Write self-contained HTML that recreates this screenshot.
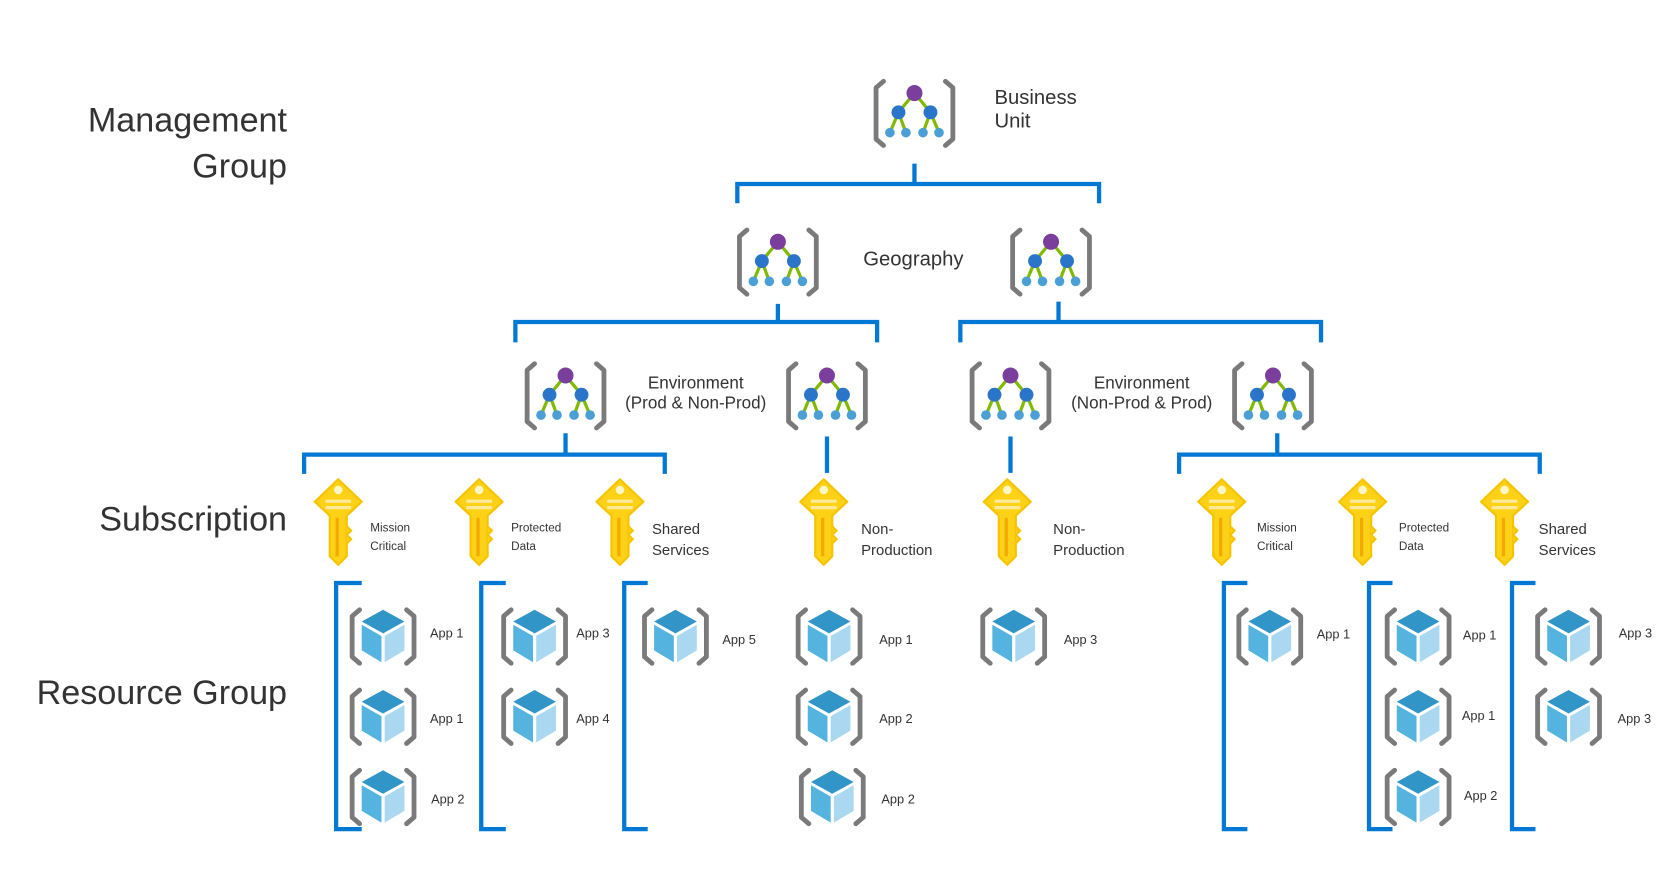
<!DOCTYPE html>
<html><head><meta charset="utf-8"><style>
html,body{margin:0;padding:0;background:#fff;width:1671px;height:889px;overflow:hidden}
svg{display:block}
text{font-family:"Liberation Sans",sans-serif;fill:#333}
</style></head><body>
<svg width="1671" height="889" viewBox="1 0 1566 831" preserveAspectRatio="none" xmlns="http://www.w3.org/2000/svg">
<defs>
<g id="mg">
<path d="M-29,-30 L-36,-24 L-36,24 L-29,30 M29,-30 L36,-24 L36,24 L29,30" fill="none" stroke="#7a7a7a" stroke-width="4.5" stroke-linecap="round" stroke-linejoin="round"/>
<path d="M0,-19 L-15,-1 L-23,18 M-15,-1 L-8,18 M0,-19 L15,-1 L8,18 M15,-1 L23,18" stroke="#7fba00" stroke-width="3" fill="none"/>
<circle cx="0" cy="-19" r="7.5" fill="#7a3f9d"/>
<circle cx="-15" cy="-1" r="6.5" fill="#2a74c9"/><circle cx="15" cy="-1" r="6.5" fill="#2a74c9"/>
<circle cx="-23" cy="18" r="4.5" fill="#4a9fd5"/><circle cx="-8" cy="18" r="4.5" fill="#4a9fd5"/>
<circle cx="8" cy="18" r="4.5" fill="#4a9fd5"/><circle cx="23" cy="18" r="4.5" fill="#4a9fd5"/>
</g>
<g id="key">
<path d="M0,-22 L22,-1 L8,12 L8,50 L0,58 L-8,50 L-8,12 L-22,-1 Z" fill="#fcd116" stroke="#f7c300" stroke-width="2" stroke-linejoin="round"/>
<path d="M8,22 L12,26 L8,30 L12,34 L8,38" fill="#fcd116" stroke="#f7c300" stroke-width="2"/>
<rect x="-2.5" y="14" width="3" height="36" fill="#f2a900"/>
<circle cx="0" cy="-12" r="4" fill="#fff6c8"/>
<rect x="-12" y="-3" width="24" height="3" fill="#fde99a"/>
<rect x="-12" y="3" width="24" height="3" fill="#fde99a"/>
</g>
<g id="cube">
<path d="M-22,-25 L-29,-19 L-29,19 L-22,25 M22,-25 L29,-19 L29,19 L22,25" fill="none" stroke="#7a7a7a" stroke-width="4.5" stroke-linecap="round" stroke-linejoin="round"/>
<path d="M0,-25 L20,-14 L0,-3 L-20,-14 Z" fill="#3295c8"/>
<path d="M-20,-11 L-1.5,-0.5 L-1.5,24 L-20,13 Z" fill="#55b3e0"/>
<path d="M20,-11 L1.5,-0.5 L1.5,24 L20,13 Z" fill="#a9d8f0"/>
</g>
</defs>

<text x="270" y="123" font-size="32" text-anchor="end">Management</text>
<text x="270" y="166" font-size="32" text-anchor="end">Group</text>
<text x="270" y="496" font-size="32" text-anchor="end">Subscription</text>
<text x="270" y="658" font-size="32" text-anchor="end">Resource Group</text>

<g stroke="#0078d4" stroke-width="4" fill="none">
<path d="M858,153 V172 M692,190 V172 H1031 V190"/>
<path d="M730,284 V301 M484,320 V301 H823 V320"/>
<path d="M993,282 V301 M901,320 V301 H1239 V320"/>
<path d="M531,405 V425 M286,443 V425 H624 V443"/>
<path d="M776,408 V442 M948,408 V442"/>
<path d="M1198,405 V425 M1106,443 V425 H1444 V443"/>
<path d="M340,545 H316 V775 H340"/>
<path d="M475,545 H452 V775 H475"/>
<path d="M608,545 H586 V775 H608"/>
<path d="M1170,545 H1148 V775 H1170"/>
<path d="M1306,545 H1284 V775 H1306"/>
<path d="M1440,545 H1418 V775 H1440"/>
</g>

<use href="#mg" x="858" y="106"/>
<use href="#mg" x="730" y="245"/>
<use href="#mg" x="986" y="245"/>
<use href="#mg" x="531" y="370"/>
<use href="#mg" x="776" y="370"/>
<use href="#mg" x="948" y="370"/>
<use href="#mg" x="1194" y="370"/>

<text x="933" y="97" font-size="19">Business</text>
<text x="933" y="119" font-size="19">Unit</text>
<text x="857" y="248" font-size="19" text-anchor="middle">Geography</text>
<text x="653" y="363" font-size="16" text-anchor="middle">Environment</text>
<text x="653" y="382" font-size="16" text-anchor="middle">(Prod &amp; Non-Prod)</text>
<text x="1071" y="363" font-size="16" text-anchor="middle">Environment</text>
<text x="1071" y="382" font-size="16" text-anchor="middle">(Non-Prod &amp; Prod)</text>

<use href="#key" x="318" y="470"/>
<use href="#key" x="450" y="470"/>
<use href="#key" x="582" y="470"/>
<use href="#key" x="773" y="470"/>
<use href="#key" x="945" y="470"/>
<use href="#key" x="1146" y="470"/>
<use href="#key" x="1278" y="470"/>
<use href="#key" x="1411" y="470"/>

<g font-size="11">
<text x="348" y="497">Mission</text><text x="348" y="514">Critical</text>
<text x="480" y="497">Protected</text><text x="480" y="514">Data</text>
<text x="1179" y="497">Mission</text><text x="1179" y="514">Critical</text>
<text x="1312" y="497">Protected</text><text x="1312" y="514">Data</text>
</g>
<g font-size="14">
<text x="612" y="499">Shared</text><text x="612" y="519">Services</text>
<text x="808" y="499">Non-</text><text x="808" y="519">Production</text>
<text x="988" y="499">Non-</text><text x="988" y="519">Production</text>
<text x="1443" y="499">Shared</text><text x="1443" y="519">Services</text>
</g>

<use href="#cube" x="360" y="595"/>
<use href="#cube" x="360" y="670"/>
<use href="#cube" x="360" y="745"/>
<use href="#cube" x="502" y="595"/>
<use href="#cube" x="502" y="670"/>
<use href="#cube" x="634" y="595"/>
<use href="#cube" x="778" y="595"/>
<use href="#cube" x="778" y="670"/>
<use href="#cube" x="781" y="745"/>
<use href="#cube" x="951" y="595"/>
<use href="#cube" x="1191" y="595"/>
<use href="#cube" x="1330" y="595"/>
<use href="#cube" x="1330" y="670"/>
<use href="#cube" x="1330" y="745"/>
<use href="#cube" x="1471" y="595"/>
<use href="#cube" x="1471" y="670"/>

<g font-size="12">
<text x="404" y="596">App 1</text>
<text x="404" y="676">App 1</text>
<text x="405" y="751">App 2</text>
<text x="541" y="596">App 3</text>
<text x="541" y="676">App 4</text>
<text x="678" y="602">App 5</text>
<text x="825" y="602">App 1</text>
<text x="825" y="676">App 2</text>
<text x="827" y="751">App 2</text>
<text x="998" y="602">App 3</text>
<text x="1235" y="597">App 1</text>
<text x="1372" y="598">App 1</text>
<text x="1371" y="673">App 1</text>
<text x="1373" y="748">App 2</text>
<text x="1518" y="596">App 3</text>
<text x="1517" y="676">App 3</text>
</g>
</svg>
</body></html>
